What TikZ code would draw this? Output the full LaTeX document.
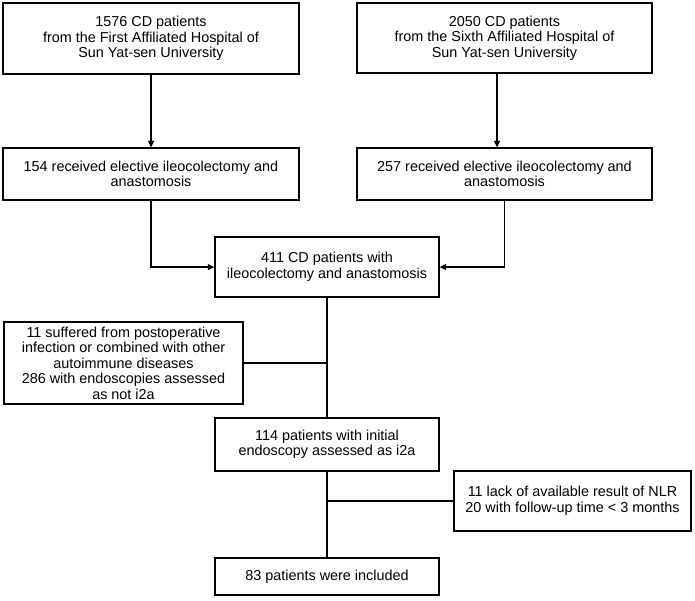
\documentclass[tikz,border=0pt]{standalone}
\usepackage{fontspec}
\setmainfont{Liberation Sans}
\usetikzlibrary{arrows.meta}
\begin{document}
\begin{tikzpicture}[x=1pt,y=-1pt,
  box/.style={draw,line width=1.3pt,inner sep=0pt,align=center,font=\fontsize{14.4}{15.5}\selectfont},
  link/.style={line width=1.3pt},
  arr/.style={line width=1.3pt,-{Triangle[length=6.5pt,width=6pt]}}]
\useasboundingbox (0,0) rectangle (695,600);
\node[box,minimum width=296pt,minimum height=71pt] (b1) at (151,38.5) {1576 CD patients\\from the First Affiliated Hospital of\\Sun Yat-sen University};
\node[box,minimum width=295pt,minimum height=70pt] (b2) at (504.5,38) {2050 CD patients\\from the Sixth Affiliated Hospital of\\Sun Yat-sen University};
\node[box,minimum width=296pt,minimum height=52pt] (b3) at (151,174) {154 received elective ileocolectomy and\\anastomosis};
\node[box,minimum width=295pt,minimum height=52pt] (b4) at (504.5,174) {257 received elective ileocolectomy and\\anastomosis};
\node[box,minimum width=224pt,minimum height=60pt] (m) at (327,267) {411 CD patients with\\ileocolectomy and anastomosis};
\node[box,minimum width=239pt,minimum height=82pt] (L) at (123.5,363) {11 suffered from postoperative\\infection or combined with other\\autoimmune diseases\\286 with endoscopies assessed\\as not i2a};
\node[box,minimum width=224pt,minimum height=53pt] (s) at (327,444.5) {114 patients with initial\\endoscopy assessed as i2a};
\node[box,minimum width=237pt,minimum height=60pt] (R) at (572.5,501) {11 lack of available result of NLR\\20 with follow-up time < 3 months};
\node[box,minimum width=224pt,minimum height=37pt] (f) at (327,576.5) {83 patients were included};
\draw[arr] (b1.south) -- (b3.north);
\draw[arr] ([xshift=-7.5pt]b2.south) -- ([xshift=-7.5pt]b4.north);
\draw[arr] (b3.south) |- (m.west);
\draw[arr] (b4.south) |- (m.east);
\coordinate (j1) at (m.south |- L.east);
\coordinate (j2) at (s.south |- R.west);
\draw[link] (m.south) -- (s.north);
\draw[link] (L.east) -- (j1);
\draw[link] (s.south) -- (f.north);
\draw[link] (j2) -- (R.west);
\end{tikzpicture}
\end{document}
